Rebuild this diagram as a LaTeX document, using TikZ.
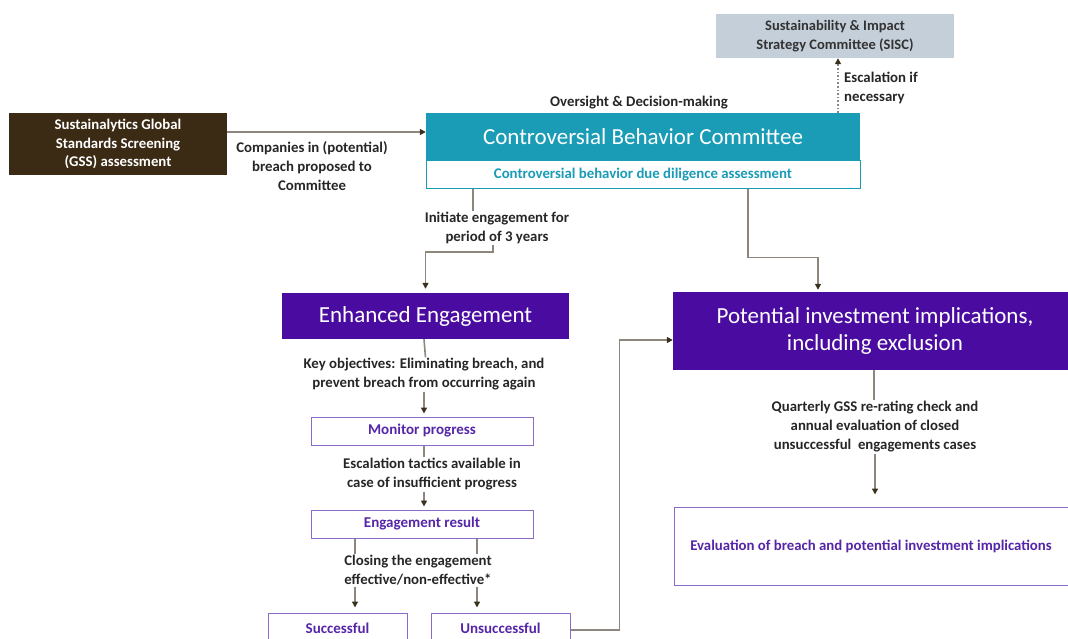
\documentclass[tikz,border=0pt]{standalone}
\usepackage{fontspec}
\setmainfont{Carlito}
\usetikzlibrary{arrows.meta}

\definecolor{gssbrown}{HTML}{3B2A14}
\definecolor{cbcteal}{HTML}{1A9BB6}
\definecolor{siscgrey}{HTML}{C4CFDA}
\definecolor{engpurple}{HTML}{4A0CA0}
\definecolor{boxpurple}{HTML}{8A6CC8}
\definecolor{txtpurple}{HTML}{5526A8}
\definecolor{linegrey}{HTML}{8C867C}
\definecolor{tipbrown}{HTML}{3A3020}

\tikzset{
  lbl/.style={align=center, text=black!85, font=\bfseries\fontsize{14.8}{19}\selectfont, inner sep=1pt},
  bigbox/.style={fill=engpurple, text=white, align=center, font=\fontsize{23}{27}\selectfont},
  smallbox/.style={draw=boxpurple, line width=1pt, fill=white, text=txtpurple, font=\bfseries\fontsize{15}{16}\selectfont},
  conn/.style={draw=linegrey, line width=1.6pt},
  arr/.style={conn, -{Triangle[length=6pt,width=6pt,color=tipbrown]}},
}

\begin{document}
\begin{tikzpicture}[x=1pt, y=-1pt]
\useasboundingbox (0,0) rectangle (1068,639);
\clip (0,0) rectangle (1068,639);

% top row
\node[fill=gssbrown, text=white, align=center, minimum width=218pt, minimum height=62pt,
      font=\bfseries\fontsize{14.8}{18.5}\selectfont] (gss) at (118,144)
      {Sustainalytics Global\\Standards Screening\\(GSS) assessment};
\node[fill=cbcteal, text=white, minimum width=434pt, minimum height=48pt,
      font=\fontsize{23}{26}\selectfont] (cbc) at (643,137) {Controversial Behavior Committee};
\node[draw=cbcteal, line width=1pt, fill=white, text=cbcteal, minimum width=434pt, minimum height=28pt,
      font=\bfseries\fontsize{14.8}{16}\selectfont] (due) at (643,175) {Controversial behavior due diligence assessment};
\node[lbl, anchor=south] (oversight) at (639,110) {Oversight \& Decision-making};
\node[fill=siscgrey, align=center, text=black!80, minimum width=238pt, minimum height=44pt,
      font=\bfseries\fontsize{14.5}{18.5}\selectfont] (sisc) at (835,36)
      {Sustainability \& Impact\\Strategy Committee (SISC)};

\node[lbl] (proposed) at (312,166) {Companies in (potential)\\breach proposed to\\Committee};
\draw[arr] ([yshift=12pt]gss.east) -- ([yshift=5pt]cbc.west);

\node[lbl, align=left, anchor=west] (escal) at (843,88) {Escalation if\\necessary};
\draw[arr, dotted] ([xshift=195pt]cbc.north) -- ([xshift=3pt]sisc.south);

% left branch
\node[lbl] (initiate) at (497,228) {Initiate engagement for\\period of 3 years};
\node[bigbox, minimum width=287pt, minimum height=46pt] (enh) at (425.5,316) {Enhanced Engagement};
\draw[conn] ([xshift=-170pt]due.south) -- ([xshift=-170pt]due.south |- initiate.north);
\draw[arr] ([xshift=-4pt]initiate.south) -- ++(0pt,-7pt) -| ([yshift=4pt]enh.north);

\node[lbl] (keyobj) at (424,374.5) {Key objectives: Eliminating breach, and\\prevent breach from occurring again};
\node[smallbox, minimum width=222pt, minimum height=28pt] (monitor) at (422,431) {Monitor progress};
\draw[conn] ([xshift=-1.5pt]enh.south) -- (enh.south |- keyobj.north);
\draw[arr] (keyobj.south) -- ([xshift=2pt,yshift=3pt]monitor.north);

\node[lbl] (tactics) at (432,474.5) {Escalation tactics available in\\case of insufficient progress};
\node[smallbox, minimum width=222pt, minimum height=28pt] (result) at (422,524) {Engagement result};
\draw[conn] ([xshift=2pt]monitor.south) -- ([xshift=2pt]monitor.south |- tactics.north);
\draw[arr] ([xshift=-8pt]tactics.south) -- ([xshift=2pt,yshift=3pt]result.north);

\node[lbl] (closing) at (418,570.5) {Closing the engagement\\effective/non-effective*};
\node[smallbox, minimum width=139pt, minimum height=30pt] (succ) at (337.5,628) {Successful};
\node[smallbox, minimum width=139pt, minimum height=30pt] (unsucc) at (500.5,628) {Unsuccessful};
\draw[conn] ([xshift=-67pt]result.south) -- ([xshift=-63pt]closing.north);
\draw[conn] ([xshift=55pt]result.south) -- ([xshift=59pt]closing.north);
\draw[arr] ([xshift=-63pt]closing.south) -- ([xshift=17.5pt,yshift=5pt]succ.north);
\draw[arr] ([xshift=59pt]closing.south) -- ([xshift=-23.5pt,yshift=5pt]unsucc.north);

% right branch
\node[bigbox, minimum width=404pt, minimum height=78pt] (pot) at (875,331)
      {Potential investment implications,\\including exclusion};
\draw[arr] ([xshift=105pt]due.south) -- ++(0pt,-68pt) -| ([xshift=-57pt,yshift=2pt]pot.north);
\draw[arr] ([yshift=-2pt]unsucc.east) -- ++(49pt,0pt) |- ([yshift=-9pt]pot.west);

\node[lbl] (quarterly) at (875,427) {Quarterly GSS re-rating check and\\annual evaluation of closed\\unsuccessful\ \ engagements cases};
\node[smallbox, minimum width=394pt, minimum height=78pt, font=\bfseries\fontsize{14.8}{16}\selectfont] (evalbox) at (871,546)
      {Evaluation of breach and potential investment implications};
\draw[conn] ([xshift=-1pt]pot.south) -- ([xshift=-1pt]pot.south |- quarterly.north);
\draw[arr, shorten >=12pt] (quarterly.south) -- (quarterly.south |- evalbox.north);
\end{tikzpicture}
\end{document}
